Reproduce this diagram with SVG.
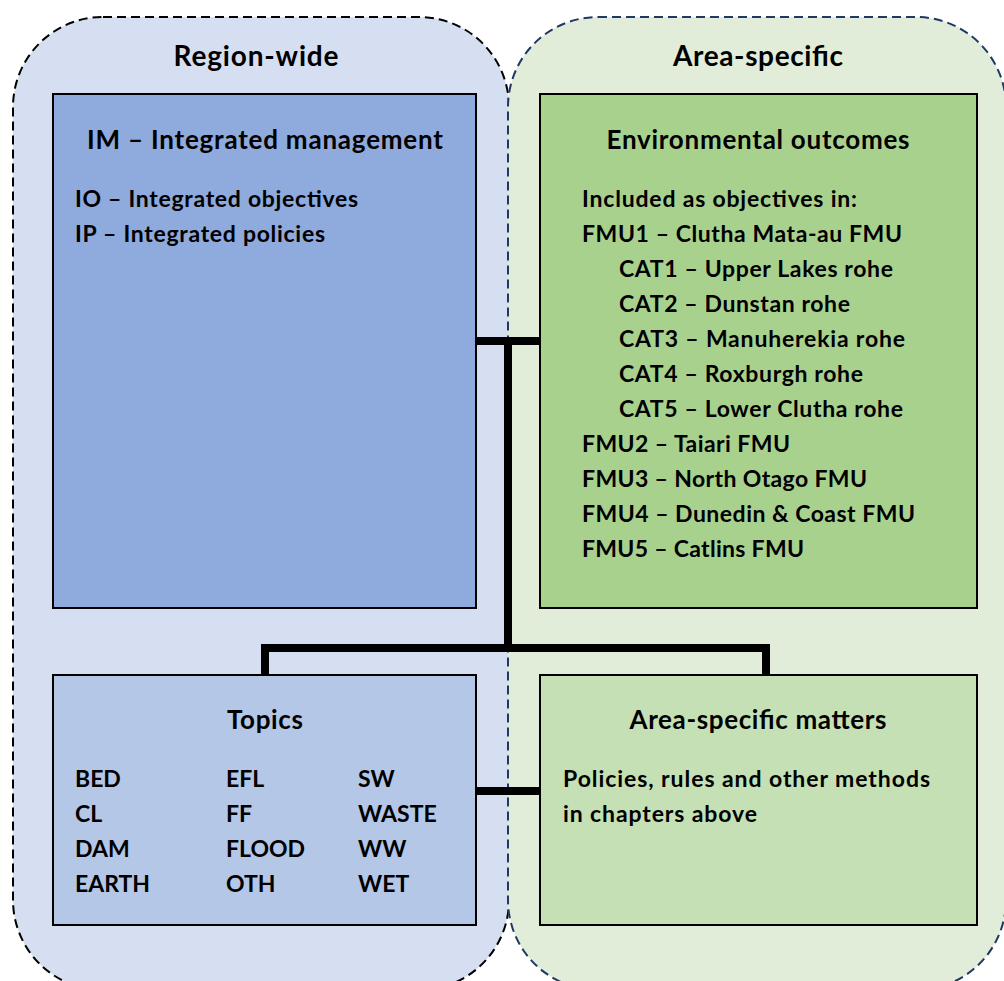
<svg xmlns="http://www.w3.org/2000/svg" width="1004" height="981" viewBox="0 0 1004 981">
<style>
text{font-family:Lato,"Open Sans","Liberation Sans",sans-serif;font-weight:bold;fill:#000}
.rt{font-size:28px;text-anchor:middle}
.bt{font-size:26px;text-anchor:middle}
.tx{font-size:23px}
.box{stroke:#000;stroke-width:2}
.con{stroke:#000;stroke-width:8;fill:none}
</style>
<g id="region-wide">
<rect x="13" y="17" width="496" height="973" rx="90" ry="90" fill="#D5DFF1" stroke="#000" stroke-width="2" stroke-dasharray="9 5"/>
<text class="rt" x="256" y="66" textLength="165">Region-wide</text>
</g>
<g id="area-specific">
<rect x="508" y="17" width="498" height="973" rx="90" ry="90" fill="#E1EDD8" stroke="#1F3864" stroke-width="2" stroke-dasharray="9 5"/>
<text class="rt" x="758" y="66" textLength="170">Area-specific</text>
</g>
<g id="connectors">
<path class="con" d="M476 341H540M508 341V648M265 675V648H766V675M476 791H540"/>
</g>
<g id="im">
<rect class="box" x="53" y="94" width="423" height="514" fill="#8FAADC"/>
<text class="bt" x="265" y="149" textLength="356">IM – Integrated management</text>
<text class="tx" x="75" y="207" textLength="283">IO – Integrated objectives</text>
<text class="tx" x="75" y="242" textLength="250">IP – Integrated policies</text>
</g>
<g id="env">
<rect class="box" x="540" y="94" width="437" height="514" fill="#A9D18E"/>
<text class="bt" x="758" y="149" textLength="303">Environmental outcomes</text>
<text class="tx" x="582" y="207" textLength="275">Included as objectives in:</text>
<text class="tx" x="582" y="242" textLength="320">FMU1 – Clutha Mata-au FMU</text>
<text class="tx" x="619" y="277" textLength="274">CAT1 – Upper Lakes rohe</text>
<text class="tx" x="619" y="312" textLength="231">CAT2 – Dunstan rohe</text>
<text class="tx" x="619" y="347" textLength="286">CAT3 – Manuherekia rohe</text>
<text class="tx" x="619" y="382" textLength="244">CAT4 – Roxburgh rohe</text>
<text class="tx" x="619" y="417" textLength="284">CAT5 – Lower Clutha rohe</text>
<text class="tx" x="582" y="452" textLength="208">FMU2 – Taiari FMU</text>
<text class="tx" x="582" y="487" textLength="285">FMU3 – North Otago FMU</text>
<text class="tx" x="582" y="522" textLength="333">FMU4 – Dunedin &amp; Coast FMU</text>
<text class="tx" x="582" y="557" textLength="222">FMU5 – Catlins FMU</text>
</g>
<g id="topics">
<rect class="box" x="53" y="675" width="423" height="250" fill="#B4C7E7"/>
<text class="bt" x="265" y="729" textLength="76">Topics</text>
<text class="tx" x="75" y="787">BED</text>
<text class="tx" x="75" y="822">CL</text>
<text class="tx" x="75" y="857">DAM</text>
<text class="tx" x="75" y="892">EARTH</text>
<text class="tx" x="226" y="787">EFL</text>
<text class="tx" x="226" y="822">FF</text>
<text class="tx" x="226" y="857">FLOOD</text>
<text class="tx" x="226" y="892">OTH</text>
<text class="tx" x="358" y="787">SW</text>
<text class="tx" x="358" y="822">WASTE</text>
<text class="tx" x="358" y="857">WW</text>
<text class="tx" x="358" y="892">WET</text>
</g>
<g id="matters">
<rect class="box" x="540" y="675" width="437" height="250" fill="#C5E0B4"/>
<text class="bt" x="758" y="729" textLength="257">Area-specific matters</text>
<text class="tx" x="563" y="787" textLength="367">Policies, rules and other methods</text>
<text class="tx" x="563" y="822" textLength="194">in chapters above</text>
</g>
</svg>
